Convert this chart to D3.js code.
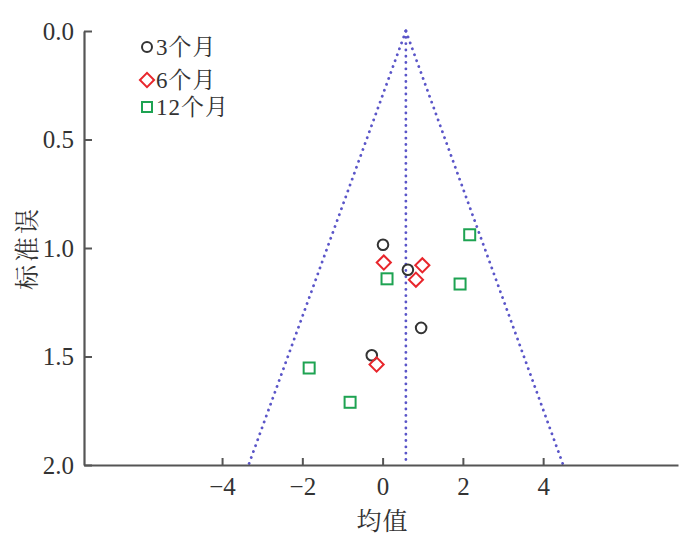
<!DOCTYPE html>
<html>
<head>
<meta charset="utf-8">
<script src="https://cdn.jsdelivr.net/npm/d3@7"></script>
<style>
html,body{margin:0;padding:0;background:#fff;}
svg{display:block;}
text{font-family:"Liberation Serif","Noto Serif CJK SC","Noto Sans CJK SC",serif;fill:#333;}
</style>
</head>
<body>
<svg id="chart" width="700" height="542"></svg>
<script>
// Data
const seriesNames = ["3个月", "6个月", "12个月"];
const mean3 = [0.01, 0.63, 0.96, -0.27];
const se3   = [0.985, 1.10, 1.368, 1.494];
const mean6 = [0.03, 0.99, 0.83, -0.15];
const se6   = [1.067, 1.080, 1.146, 1.537];
const mean12 = [2.17, 0.11, 1.93, -1.83, -0.81];
const se12   = [0.939, 1.142, 1.166, 1.553, 1.711];
const pooledMean = 0.58;
const maxSE = 2.0;
const xTicks = [-4, -2, 0, 2, 4];
const yTicks = [0.0, 0.5, 1.0, 1.5, 2.0];
const xLabel = "均值";
const yLabel = "标准误";

const svg = d3.select("#chart");
const mLeft = 84, mRight = 678, mTop = 31, mBottom = 465;
const x = d3.scaleLinear().domain([-7.44, 7.36]).range([mLeft, mRight]);
const y = d3.scaleLinear().domain([0, 2]).range([mTop, mBottom]);
const axisColor = "#555";

// Funnel lines
const funnelColor = "#5a55c8";
const fg = svg.append("g");
const lines = [
  [[pooledMean, 0], [pooledMean - 1.96 * maxSE, maxSE]],
  [[pooledMean, 0], [pooledMean + 1.96 * maxSE, maxSE]],
  [[pooledMean, 0], [pooledMean, maxSE]]
];
const lineGen = d3.line().x(d => x(d[0])).y(d => y(d[1]));
fg.selectAll("path").data(lines).join("path")
  .attr("d", lineGen)
  .attr("fill", "none")
  .attr("stroke", funnelColor)
  .attr("stroke-width", 2.8)
  .attr("stroke-linecap", "round")
  .attr("stroke-dasharray", "0.1,6.2");

// Axes
const yAxis = d3.axisLeft(y).tickValues(yTicks).tickFormat(d3.format(".1f")).tickSizeInner(-8).tickSizeOuter(0).tickPadding(10);
const xAxis = d3.axisBottom(x).tickValues(xTicks).tickFormat(d => d < 0 ? "\u2212" + Math.abs(d) : d).tickSizeInner(-7).tickSizeOuter(0).tickPadding(12);

const gy = svg.append("g").attr("transform", `translate(${mLeft},0)`).call(yAxis);
const gx = svg.append("g").attr("transform", `translate(0,${mBottom})`).call(xAxis);
[gx, gy].forEach(g => {
  g.select(".domain").attr("stroke", axisColor).attr("stroke-width", 2.2);
  g.selectAll(".tick line").attr("stroke", axisColor).attr("stroke-width", 2);
  g.selectAll(".tick text").attr("font-size", 25).attr("fill", "#333")
    .attr("font-family", '"Liberation Serif", serif');
});
gy.selectAll(".tick text").attr("dy", "0.32em");

// Axis labels
svg.append("text").attr("x", x(0)).attr("y", 530).attr("text-anchor", "middle")
  .attr("font-size", 25).attr("letter-spacing", 1).text(xLabel);
svg.append("text").attr("transform", `translate(36,${y(1.0)}) rotate(-90)`)
  .attr("text-anchor", "middle").attr("font-size", 25).attr("letter-spacing", 3).text(yLabel);

// Markers
const cCircle = "#333", cDiamond = "#e8262c", cSquare = "#1ea352";
const pg = svg.append("g");
const d3data = mean3.map((m, i) => ({m, s: se3[i]}));
const d6data = mean6.map((m, i) => ({m, s: se6[i]}));
const d12data = mean12.map((m, i) => ({m, s: se12[i]}));

pg.selectAll(".c3").data(d3data).join("circle")
  .attr("cx", d => x(d.m)).attr("cy", d => y(d.s)).attr("r", 5.3)
  .attr("fill", "none").attr("stroke", cCircle).attr("stroke-width", 2);

const diamond = d3.symbol().type(d3.symbolSquare).size(100);
pg.selectAll(".c6").data(d6data).join("path")
  .attr("d", diamond())
  .attr("transform", d => `translate(${x(d.m)},${y(d.s)}) rotate(45)`)
  .attr("fill", "none").attr("stroke", cDiamond).attr("stroke-width", 2);

pg.selectAll(".c12").data(d12data).join("rect")
  .attr("x", d => x(d.m) - 5.5).attr("y", d => y(d.s) - 5.5)
  .attr("width", 11).attr("height", 11)
  .attr("fill", "none").attr("stroke", cSquare).attr("stroke-width", 2);

// Legend
const lg = svg.append("g").attr("transform", "translate(147,0)");
const ly = [47, 80, 107];
lg.append("circle").attr("cx", 0).attr("cy", ly[0]).attr("r", 5)
  .attr("fill", "none").attr("stroke", cCircle).attr("stroke-width", 2);
lg.append("path").attr("d", diamond()).attr("transform", `translate(0,${ly[1]}) rotate(45)`)
  .attr("fill", "none").attr("stroke", cDiamond).attr("stroke-width", 2);
lg.append("rect").attr("x", -5).attr("y", ly[2] - 5).attr("width", 10).attr("height", 10)
  .attr("fill", "none").attr("stroke", cSquare).attr("stroke-width", 2);
lg.selectAll(".lt").data(seriesNames).join("text")
  .attr("x", 9).attr("y", (d, i) => ly[i] + 8)
  .attr("font-size", 23).attr("letter-spacing", 1).text(d => d);
</script>
</body>
</html>
